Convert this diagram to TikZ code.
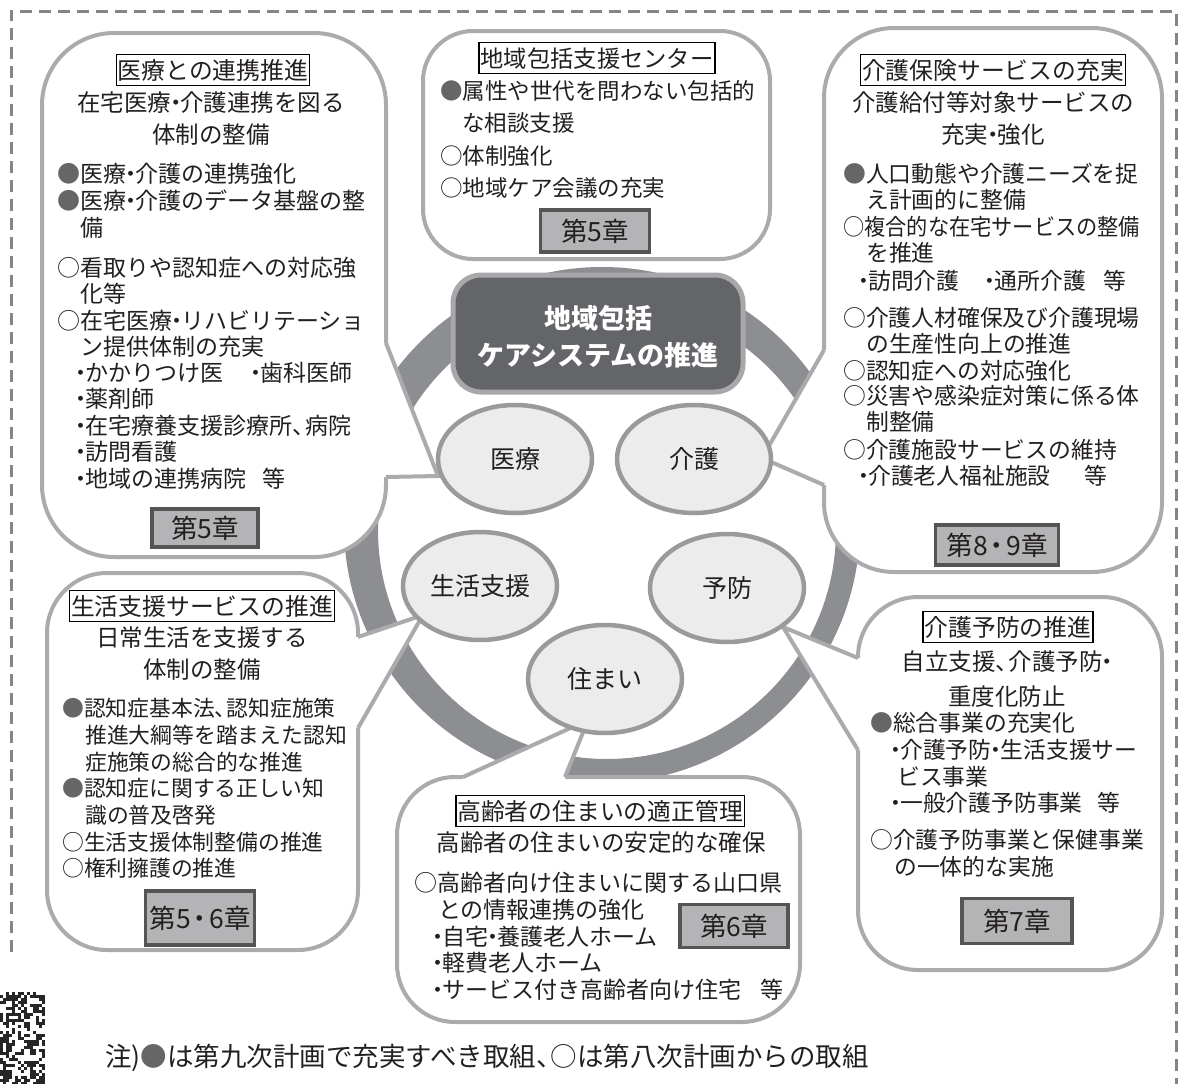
\documentclass[tikz,border=0pt]{standalone}
\usepackage{fontspec}
\usepackage{graphicx}
\setmainfont{Noto Sans CJK JP}
\usetikzlibrary{shapes.geometric}
\definecolor{boxln}{HTML}{ABABAD}
\definecolor{ringc}{HTML}{8D8E91}
\definecolor{ellf}{HTML}{ECECEC}
\definecolor{elld}{HTML}{9A9A9C}
\definecolor{chapf}{HTML}{B4B4B6}
\definecolor{chapd}{HTML}{555555}
\definecolor{darkf}{HTML}{646569}
\definecolor{darkln}{HTML}{A8A8AA}
\definecolor{bul}{HTML}{666666}
\definecolor{dashc}{HTML}{858585}
\definecolor{txt}{HTML}{231F20}
\newcommand\bk{\textcolor{bul}{●}}
\newcommand\nd{\kern-.3em・\kern-.3em}
\newcommand\tn{、\kern-.45em}
\begin{document}
\begin{tikzpicture}[x=1pt,y=-1pt,
  every node/.style={text=txt},
  boxst/.style={draw=boxln, fill=white, line width=4pt},
  tailst/.style={draw=boxln, line width=4pt, line join=miter, miter limit=8},
  L/.style={anchor=west, inner sep=0pt},
  f235/.style={font=\fontsize{23.5pt}{23.5pt}\selectfont, text height=20.7pt, text depth=2.8pt},
  f23/.style={font=\fontsize{23pt}{23pt}\selectfont, text height=20.2pt, text depth=2.8pt},
  f228/.style={font=\fontsize{22.8pt}{22.8pt}\selectfont, text height=20.1pt, text depth=2.7pt},
  f225/.style={font=\fontsize{22.5pt}{22.5pt}\selectfont, text height=19.8pt, text depth=2.7pt},
  f218/.style={font=\fontsize{21.8pt}{21.8pt}\selectfont, text height=19.2pt, text depth=2.6pt},
  ttl/.style={draw=black, line width=1.6pt, fill=white, inner xsep=1.5pt, inner ysep=3.5pt,
    font=\fontsize{23.8pt}{23.8pt}\selectfont, text height=20.9pt, text depth=2.9pt},
  sub/.style={inner sep=0pt, font=\fontsize{23.5pt}{23.5pt}\selectfont, text height=20.7pt, text depth=2.8pt},
  chap/.style={draw=chapd, fill=chapf, line width=3.2pt, inner sep=0pt,
    font=\fontsize{26.5pt}{26.5pt}\selectfont},
  ell/.style={ellipse, draw=elld, fill=ellf, line width=4.5pt, inner sep=0pt,
    minimum width=154pt, minimum height=108pt, font=\fontsize{25pt}{25pt}\selectfont},
  ctr/.style={inner sep=0pt, text=white, font=\fontsize{27pt}{27pt}\selectfont\bfseries}
]
\useasboundingbox (0,0) rectangle (1179,1084);

% dashed frame
\draw[dashc, line width=3pt, dash pattern=on 12pt off 7pt] (11,952) -- (11,11) -- (1176,11) -- (1176,1084);

% noise patch bottom left
\pgfmathsetseed{12}
\foreach \i in {0,...,14}{\foreach \j in {0,...,30}{%
  \pgfmathrandominteger{\rr}{0}{1}%
  \ifnum\rr=1 \fill[black!85] (\i*3,992+\j*3) rectangle ++(3,3);\fi}}

% ring
\fill[ringc, even odd rule] (602,525) circle[radius=258] (607,530) circle[radius=229];

% box A (医療)
\draw[boxst, rounded corners=72pt] (42,33) rectangle (386,557);
\fill[white] (378,343) -- (386,343) -- (438,476) -- (386,477) -- (378,477) -- cycle;
\draw[tailst] (386,343) -- (438,476) -- (386,477);
% box B (センター)
\draw[boxst, rounded corners=50pt] (423,31) rectangle (770,259);
% box C (介護)
\draw[boxst, rounded corners=70pt] (824,28) rectangle (1162,572);
\fill[white] (832,350) -- (824,350) -- (762,458) -- (824,485) -- (832,485) -- cycle;
\draw[tailst] (824,350) -- (762,458) -- (824,485);
% box D (予防)
\draw[boxst, rounded corners=60pt] (858,597) rectangle (1162,970);
\fill[white] (866,658) -- (858,658) -- (783,627) -- (858,750) -- (866,750) -- cycle;
\draw[tailst] (858,658) -- (783,627) -- (858,750);
% box E (生活支援)
\draw[boxst, rounded corners=60pt] (47,573) rectangle (358,950);
\fill[white] (350,637) -- (358,637) -- (423,615) -- (358,728) -- (350,728) -- cycle;
\draw[tailst] (358,637) -- (423,615) -- (358,728);
% box F (住まい)
\draw[boxst, rounded corners=58pt] (397,777) rectangle (800,1022);
\fill[white] (463,785) -- (463,777) -- (588,720) -- (565,777) -- (565,785) -- cycle;
\draw[tailst] (463,777) -- (588,720) -- (565,777);

% central box
\draw[fill=darkf, draw=darkln, line width=5pt, rounded corners=28pt] (453,275) rectangle (743,392);
\node[ctr] (k1) at (598,318) {地域包括};
\node[ctr] (k2) at (598,355) {ケアシステムの推進};

% ellipses
\node[ell] (eA) at (515,459) {医療};
\node[ell] (eB) at (694,459) {介護};
\node[ell] (eC) at (480,586) {生活支援};
\node[ell] (eD) at (727,588) {予防};
\node[ell] (eE) at (605,679) {住まい};

% texts A
\node[ttl] (at) at (213,70) {医療との連携推進};
\node[sub] (a1) at (211,103) {在宅医療\nd 介護連携を図る};
\node[sub] (a2) at (211,135) {体制の整備};
\node[L,f23] (a3) at (57,174) {\bk 医療\nd 介護の連携強化};
\node[L,f23] (a4) at (57,201) {\bk 医療\nd 介護のデータ基盤の整};
\node[L,f23] (a5) at (80,228) {備};
\node[L,f23] (a6) at (57,268) {○看取りや認知症への対応強};
\node[L,f23] (a7) at (80,294) {化等};
\node[L,f23] (a8) at (57,321) {○在宅医療\nd リハビリテーショ};
\node[L,f23] (a9) at (80,347) {ン提供体制の充実};
\node[L,f23] (a10) at (76,373) {\nd かかりつけ医\hspace{1.2em}\nd 歯科医師};
\node[L,f23] (a11) at (76,399) {\nd 薬剤師};
\node[L,f23] (a12) at (76,426) {\nd 在宅療養支援診療所\tn 病院};
\node[L,f23] (a13) at (76,452) {\nd 訪問看護};
\node[L,f23] (a14) at (76,479) {\nd 地域の連携病院\hspace{.7em}等};
\node[chap, minimum width=106pt, minimum height=38pt] (ac) at (205,528) {第5章};

% texts B
\node[ttl, font=\fontsize{23.3pt}{23.3pt}\selectfont] (bt) at (597,58) {地域包括支援センター};
\node[L,f225] (b1) at (440,91) {\bk 属性や世代を問わない包括的};
\node[L,f225] (b2) at (462,123) {な相談支援};
\node[L,f225] (b3) at (440,156) {○体制強化};
\node[L,f225] (b4) at (440,188) {○地域ケア会議の充実};
\node[chap, minimum width=109pt, minimum height=42pt] (bc) at (595,231) {第5章};

% texts C
\node[ttl] (ct) at (993,70) {介護保険サービスの充実};
\node[sub] (c1) at (993,103) {介護給付等対象サービスの};
\node[sub] (c2) at (993,135) {充実\nd 強化};
\node[L,f228] (c3) at (843,174) {\bk 人口動態や介護ニーズを捉};
\node[L,f228] (c4) at (866,200) {え計画的に整備};
\node[L,f228] (c5) at (843,227) {\scalebox{0.93}[1]{○複合的な在宅サービスの整備}};
\node[L,f228] (c6) at (866,253) {を推進};
\node[L,f228] (c7) at (859,281) {\nd 訪問介護\hspace{1.15em}\nd 通所介護\hspace{.75em}等};
\node[L,f228] (c8) at (843,318) {○介護人材確保及び介護現場};
\node[L,f228] (c9) at (866,344) {の生産性向上の推進};
\node[L,f228] (c10) at (843,371) {○認知症への対応強化};
\node[L,f228] (c11) at (843,396) {○災害や感染症対策に係る体};
\node[L,f228] (c12) at (866,422) {制整備};
\node[L,f228] (c13) at (843,450) {○介護施設サービスの維持};
\node[L,f228] (c14) at (859,476) {\nd 介護老人福祉施設\hspace{1.5em}等};
\node[chap, minimum width=123pt, minimum height=40pt] (cc) at (997,545) {第8\kern-.15em・\kern-.15em 9章};

% texts D
\node[ttl] (dt) at (1008,627) {介護予防の推進};
\node[sub] (d1) at (1007,662) {自立支援\tn 介護予防\nd};
\node[sub] (d2) at (1007,697) {重度化防止};
\node[L,f228] (d3) at (870,723) {\bk 総合事業の充実化};
\node[L,f228] (d4) at (891,750) {\nd 介護予防\nd 生活支援サー};
\node[L,f228] (d5) at (897,777) {ビス事業};
\node[L,f228] (d6) at (891,803) {\nd 一般介護予防事業\hspace{.65em}等};
\node[L,f228] (d7) at (870,840) {○介護予防事業と保健事業};
\node[L,f228] (d8) at (894,867) {の一体的な実施};
\node[chap, minimum width=110pt, minimum height=45pt] (dc) at (1017,921) {第7章};

% texts E
\node[ttl] (et) at (202,606) {生活支援サービスの推進};
\node[sub] (e1) at (202,638) {日常生活を支援する};
\node[sub] (e2) at (202,670) {体制の整備};
\node[L,f218] (e3) at (62,708) {\bk 認知症基本法\tn 認知症施策};
\node[L,f218] (e4) at (85,735) {推進大綱等を踏まえた認知};
\node[L,f218] (e5) at (85,762) {症施策の総合的な推進};
\node[L,f218] (e6) at (62,788) {\bk 認知症に関する正しい知};
\node[L,f218] (e7) at (85,815) {識の普及啓発};
\node[L,f218] (e8) at (62,842) {○生活支援体制整備の推進};
\node[L,f218] (e9) at (62,868) {○権利擁護の推進};
\node[chap, minimum width=109pt, minimum height=54pt] (ec) at (200,918) {第5\kern-.15em・\kern-.15em 6章};

% texts F
\node[ttl] (ft) at (600,811) {高齢者の住まいの適正管理};
\node[sub] (f1) at (601,843) {高齢者の住まいの安定的な確保};
\node[L,f23] (f2) at (414,883) {○高齢者向け住まいに関する山口県};
\node[L,f23] (f3) at (438,910) {との情報連携の強化};
\node[L,f23] (f4) at (433,937) {\nd 自宅\nd 養護老人ホーム};
\node[L,f23] (f5) at (433,963) {\nd 軽費老人ホーム};
\node[L,f23] (f6) at (433,990) {\nd サービス付き高齢者向け住宅\hspace{.85em}等};
\node[chap, minimum width=108pt, minimum height=43pt] (fc) at (734,926) {第6章};

% note
\node[L, font=\fontsize{26.5pt}{26.5pt}\selectfont, text height=23.3pt, text depth=3.2pt] (nt) at (105,1056) {注)\bk は第九次計画で充実すべき取組\tn ○は第八次計画からの取組};
\end{tikzpicture}
\end{document}
